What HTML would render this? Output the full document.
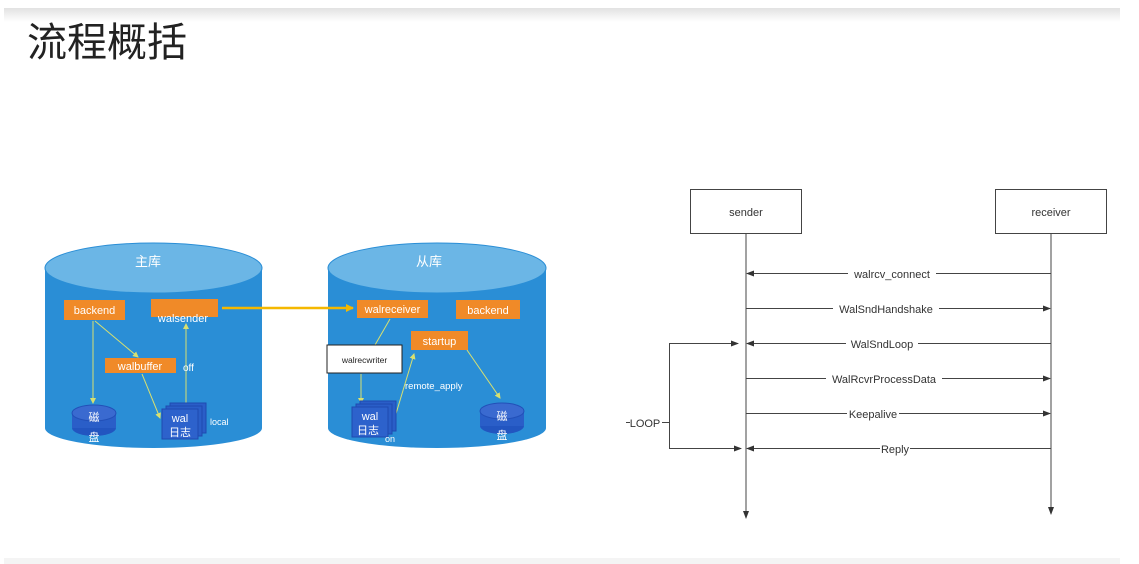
<!DOCTYPE html>
<html><head><meta charset="utf-8"><style>
html,body{margin:0;padding:0;background:#fff;width:1139px;height:564px;overflow:hidden}
svg{display:block}
</style></head><body>
<svg width="1139" height="564" viewBox="0 0 1139 564" xmlns="http://www.w3.org/2000/svg" font-family="Liberation Sans, Noto Sans CJK SC, sans-serif">
<defs>
<linearGradient id="tb" x1="0" y1="0" x2="0" y2="1"><stop offset="0" stop-color="#e2e2e2"/><stop offset="1" stop-color="#ffffff"/></linearGradient>
<marker id="ya" markerWidth="8" markerHeight="8" refX="7" refY="4" orient="auto" markerUnits="userSpaceOnUse"><path d="M0,0 L8,4 L0,8 z" fill="#f5b800"/></marker>
<marker id="ga" markerWidth="6" markerHeight="6" refX="5" refY="3" orient="auto" markerUnits="userSpaceOnUse"><path d="M0,0 L6,3 L0,6 z" fill="#d8e070"/></marker>
<marker id="ba" markerWidth="8" markerHeight="8" refX="7" refY="4" orient="auto" markerUnits="userSpaceOnUse"><path d="M0,1 L8,4 L0,7 z" fill="#333"/></marker>
</defs>
<rect x="4" y="8" width="1116" height="14" fill="url(#tb)"/>
<rect x="4" y="558" width="1116" height="6" fill="#f4f4f4"/>
<text x="27" y="56" font-size="40" fill="#222" font-family="Noto Sans CJK SC, sans-serif">流程概括</text>

<!-- left cylinder -->
<g>
<path d="M45,268 L45,428 A108.5,20 0 0 0 262,428 L262,268 Z" fill="#2a8ed6"/>
<ellipse cx="153.5" cy="268" rx="108.5" ry="25" fill="#6bb6e6" stroke="#2a8ed6" stroke-width="1"/>
<text x="148" y="266" font-size="13" fill="#fff" text-anchor="middle">主库</text>
<rect x="64" y="300" width="61" height="20" fill="#f08a28"/>
<text x="94.5" y="314" font-size="11" fill="#fff" text-anchor="middle">backend</text>
<rect x="151" y="299" width="67" height="18" fill="#f08a28"/>
<text x="183" y="322" font-size="11" fill="#fff" text-anchor="middle">walsender</text>
<rect x="105" y="358" width="71" height="15" fill="#f08a28"/>
<text x="140" y="370" font-size="11" fill="#fff" text-anchor="middle">walbuffer</text>
<line x1="93" y1="321" x2="93" y2="403" stroke="#d8e070" stroke-width="1" marker-end="url(#ga)"/>
<line x1="95" y1="321" x2="138" y2="357" stroke="#d8e070" stroke-width="1" marker-end="url(#ga)"/>
<line x1="142" y1="374" x2="160" y2="418" stroke="#d8e070" stroke-width="1" marker-end="url(#ga)"/>
<line x1="186" y1="406" x2="186" y2="324" stroke="#d8e070" stroke-width="1" marker-end="url(#ga)"/>
<text x="183" y="371" font-size="10" fill="#fff">off</text>
<ellipse cx="94" cy="428" rx="22" ry="8" fill="#2255c0"/>
<rect x="72" y="413" width="44" height="15" fill="#2a5ec8"/>
<ellipse cx="94" cy="413" rx="22" ry="8" fill="#3a6ad0" stroke="#2250b8"/>
<text x="94" y="421" font-size="11" fill="#fff" text-anchor="middle">磁</text>
<text x="94" y="441" font-size="11" fill="#fff" text-anchor="middle">盘</text>
<rect x="170" y="403" width="36" height="30" fill="#2a5ec8" stroke="#1e4ab0"/>
<rect x="166" y="406" width="36" height="30" fill="#2a5ec8" stroke="#1e4ab0"/>
<rect x="162" y="409" width="36" height="30" fill="#2d62cc" stroke="#1e4ab0"/>
<text x="180" y="422" font-size="11" fill="#fff" text-anchor="middle">wal</text>
<text x="180" y="436" font-size="11" fill="#fff" text-anchor="middle">日志</text>
<text x="210" y="425" font-size="9" fill="#fff">local</text>
</g>

<!-- right cylinder -->
<g>
<path d="M328,268 L328,428 A109,20 0 0 0 546,428 L546,268 Z" fill="#2a8ed6"/>
<ellipse cx="437" cy="268" rx="109" ry="25" fill="#6bb6e6" stroke="#2a8ed6" stroke-width="1"/>
<text x="429" y="266" font-size="13" fill="#fff" text-anchor="middle">从库</text>
<rect x="357" y="300" width="71" height="18" fill="#f08a28"/>
<text x="392.5" y="313" font-size="11" fill="#fff" text-anchor="middle">walreceiver</text>
<rect x="456" y="300" width="64" height="19" fill="#f08a28"/>
<text x="488" y="314" font-size="11" fill="#fff" text-anchor="middle">backend</text>
<rect x="411" y="331" width="57" height="19" fill="#f08a28"/>
<text x="439.5" y="345" font-size="11" fill="#fff" text-anchor="middle">startup</text>
<line x1="390" y1="319" x2="375" y2="345" stroke="#d8e070"/>
<rect x="327" y="345" width="75" height="28" fill="#fff" stroke="#222" stroke-width="1"/>
<text x="364.5" y="363" font-size="8.5" fill="#222" text-anchor="middle">walrecwriter</text>
<line x1="361" y1="374" x2="361" y2="403" stroke="#d8e070" marker-end="url(#ga)"/>
<line x1="395" y1="417" x2="414" y2="354" stroke="#d8e070" marker-end="url(#ga)"/>
<line x1="467" y1="350" x2="500" y2="398" stroke="#d8e070" marker-end="url(#ga)"/>
<text x="405" y="389" font-size="9.5" fill="#fff">remote_apply</text>
<rect x="360" y="401" width="36" height="30" fill="#2a5ec8" stroke="#1e4ab0"/>
<rect x="356" y="404" width="36" height="30" fill="#2a5ec8" stroke="#1e4ab0"/>
<rect x="352" y="407" width="36" height="30" fill="#2d62cc" stroke="#1e4ab0"/>
<text x="370" y="420" font-size="11" fill="#fff" text-anchor="middle">wal</text>
<text x="368" y="434" font-size="11" fill="#fff" text-anchor="middle">日志</text>
<text x="385" y="442" font-size="9" fill="#fff">on</text>
<ellipse cx="502" cy="426" rx="22" ry="8" fill="#2255c0"/>
<rect x="480" y="411" width="44" height="15" fill="#2a5ec8"/>
<ellipse cx="502" cy="411" rx="22" ry="8" fill="#3a6ad0" stroke="#2250b8"/>
<text x="502" y="420" font-size="11" fill="#fff" text-anchor="middle">磁</text>
<text x="502" y="439" font-size="11" fill="#fff" text-anchor="middle">盘</text>
</g>

<line x1="222" y1="308" x2="353" y2="308" stroke="#f5b800" stroke-width="2.5" marker-end="url(#ya)"/>

<!-- sequence -->
<g stroke="#444" stroke-width="1" fill="none">
<rect x="690.5" y="189.5" width="111" height="44" fill="#fff"/>
<rect x="995.5" y="189.5" width="111" height="44" fill="#fff"/>
<line x1="746" y1="234" x2="746" y2="518" marker-end="url(#ba)"/>
<line x1="1051" y1="234" x2="1051" y2="514" marker-end="url(#ba)"/>
<line x1="1051" y1="273.5" x2="747" y2="273.5" marker-end="url(#ba)"/>
<line x1="746" y1="308.5" x2="1050" y2="308.5" marker-end="url(#ba)"/>
<line x1="1051" y1="343.5" x2="747" y2="343.5" marker-end="url(#ba)"/>
<line x1="746" y1="378.5" x2="1050" y2="378.5" marker-end="url(#ba)"/>
<line x1="746" y1="413.5" x2="1050" y2="413.5" marker-end="url(#ba)"/>
<line x1="1051" y1="448.5" x2="747" y2="448.5" marker-end="url(#ba)"/>
<polyline points="737,343.5 669.5,343.5 669.5,448.5 740,448.5"/>
<line x1="669" y1="343.5" x2="738" y2="343.5" marker-end="url(#ba)"/>
<line x1="669" y1="448.5" x2="741" y2="448.5" marker-end="url(#ba)"/>
<line x1="662" y1="422.5" x2="669" y2="422.5"/>
</g>
<g font-size="11" fill="#333" text-anchor="middle">
<text x="746" y="216">sender</text>
<text x="1051" y="216">receiver</text>
<rect x="848" y="267" width="88" height="12" fill="#fff"/><text x="892" y="278">walrcv_connect</text>
<rect x="833" y="302" width="106" height="12" fill="#fff"/><text x="886" y="313">WalSndHandshake</text>
<rect x="846" y="337" width="72" height="12" fill="#fff"/><text x="882" y="348">WalSndLoop</text>
<rect x="826" y="372" width="116" height="12" fill="#fff"/><text x="884" y="383">WalRcvrProcessData</text>
<rect x="847" y="407" width="52" height="12" fill="#fff"/><text x="873" y="418">Keepalive</text>
<rect x="880" y="442" width="30" height="12" fill="#fff"/><text x="895" y="453">Reply</text>
<text x="645" y="427">LOOP</text>
</g>
<line x1="626" y1="422.5" x2="630" y2="422.5" stroke="#444"/>
</svg>
</body></html>
